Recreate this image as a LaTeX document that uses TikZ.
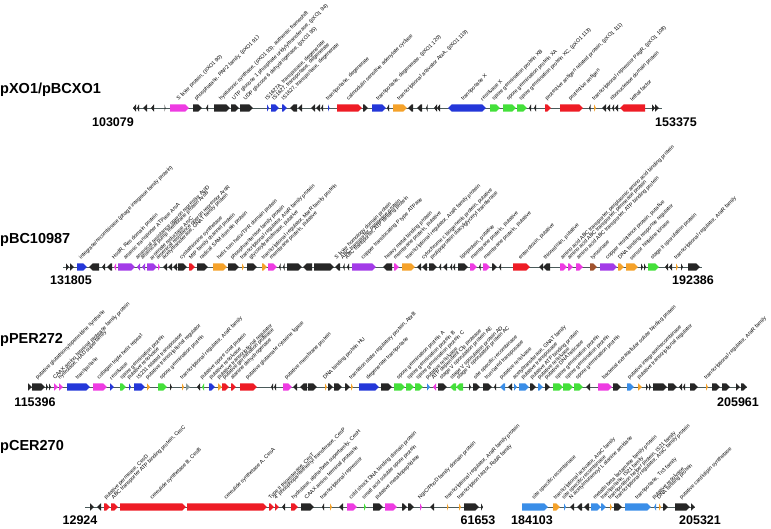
\documentclass[tikz,border=0pt]{standalone}
\usepackage{fontspec}
\setmainfont{Liberation Sans}
\definecolor{blk}{HTML}{262626}
\definecolor{mag}{HTML}{EE3BE2}
\definecolor{rd}{HTML}{EE1C25}
\definecolor{blu}{HTML}{2437D9}
\definecolor{lblu}{HTML}{3A8EE8}
\definecolor{grn}{HTML}{44E03A}
\definecolor{org}{HTML}{F5A22A}
\definecolor{pur}{HTML}{A33BE8}
\definecolor{brn}{HTML}{A0522D}
\definecolor{gry}{HTML}{8A9A9A}
\definecolor{bone}{HTML}{4A5A5A}
\tikzset{
  lbl/.style={font=\fontsize{5.3}{6}\selectfont, rotate=45, anchor=south west, inner sep=0pt},
  ttl/.style={font=\fontsize{14.5}{16}\selectfont\bfseries, anchor=west, inner sep=0pt},
  num/.style={font=\fontsize{12.5}{14}\selectfont\bfseries, inner sep=0pt},
  backbone/.style={draw=bone, line width=0.9pt}
}
\newcommand\G[5]{%
  \pgfmathsetmacro\gl{#2-#1}%
  \pgfmathsetmacro\gh{min(3.8,\gl)}%
  \ifx r#3
    \fill[#4] (#1,\ty-3.7) -- (#2-\gh,\ty-3.7) -- (#2,\ty) -- (#2-\gh,\ty+3.7) -- (#1,\ty+3.7) -- cycle;
  \else
    \fill[#4] (#2,\ty-3.7) -- (#1+\gh,\ty-3.7) -- (#1,\ty) -- (#1+\gh,\ty+3.7) -- (#2,\ty+3.7) -- cycle;
  \fi
  \if\relax\detokenize{#5}\relax\else
    \node[lbl] at ({(#1+#2)/2},\ty-6.5) {#5};
  \fi
}
\begin{document}
\begin{tikzpicture}[x=1pt,y=-1pt]
\useasboundingbox (0,0) rectangle (771,528);
% ---------------- Track 1 ----------------
\def\ty{108}
\node[ttl] (t1) at (0,90) {pXO1/pBCXO1};
\draw[backbone] (133,\ty) -- (662,\ty);
\node[num] (s1) at (113,122) {103079};
\node[num] (e1) at (676,122) {153375};
\G{133}{136}{l}{blk}{}
\G{137}{139}{l}{blk}{}
\G{143}{147}{l}{blk}{}
\G{151}{154}{l}{blk}{}
\G{164.5}{165.5}{r}{blk}{}
\G{170}{189}{r}{mag}{S layer protein, (pXO1 90)}
\G{193}{202}{r}{blk}{phosphatase, PAP2 family, (pXO1 91)}
\G{206}{208}{l}{blk}{}
\G{214}{230}{r}{blk}{hyaluronic synthase, (pXO1 93), authentic frameshift}
\G{231}{239}{r}{blk}{UTP glucose 1 phosphate uridylyltransferase, (pXO1 94)}
\G{240}{253}{r}{blk}{UDP glucose 6 dehydrogenase, (pXO1 95)}
\G{267}{269}{r}{blu}{IS1627A, transposase, degenerate}
\G{271}{279}{r}{blu}{IS1627, transposase, degenerate}
\G{282}{287}{r}{blu}{IS1627, transposase, degenerate}
\G{290}{297}{l}{blk}{}
\G{298}{302}{l}{blk}{}
\G{311}{315}{l}{blk}{}
\G{316}{320}{l}{blk}{}
\G{321}{323}{l}{blk}{}
\G{328}{329.5}{r}{blu}{transposase, degenerate}
\G{337}{362}{r}{rd}{calmodulin sensitive adenylate cyclase}
\G{363}{368}{r}{blk}{}
\G{372}{386}{r}{blu}{transposase, degenerate, (pXO1 120)}
\G{387}{389}{l}{blk}{}
\G{393}{407}{r}{org}{transcriptional activator AtxA, (pXO1 119)}
\G{408}{413}{l}{blk}{}
\G{417}{422}{l}{blk}{}
\G{426}{427.5}{l}{blk}{}
\G{434}{437}{l}{blk}{}
\G{437}{440}{l}{blk}{}
\G{448}{480}{l}{blu}{transposase X}
\G{480}{486}{r}{blu}{resolvase X}
\G{490}{500}{r}{grn}{spore germination protein XB}
\G{503}{516}{r}{grn}{spore germination protein XA}
\G{517}{527}{r}{grn}{spore germination protein XC, (pXO1 113)}
\G{529}{531}{l}{blk}{}
\G{534}{536}{l}{blk}{}
\G{545}{551}{r}{rd}{protective antigen related protein, (pXO1 111)}
\G{560}{583}{r}{rd}{protective antigen}
\G{589}{590.5}{l}{blk}{}
\G{594}{596}{r}{org}{transcriptional repressor PagR, (pXO1 108)}
\G{602}{606}{l}{blk}{}
\G{607}{610}{l}{blk}{}
\G{612}{614}{l}{blk}{ribonuclease domain protein}
\G{615}{618}{l}{blk}{}
\G{620}{645}{l}{rd}{lethal factor}
\G{652}{655}{r}{blk}{}
\G{655}{659}{r}{blk}{}
% ---------------- Track 2 ----------------
\def\ty{267}
\node[ttl] (t2) at (0,240) {pBC10987};
\draw[backbone] (63,\ty) -- (702,\ty);
\node[num] (s2) at (71,280) {131805};
\node[num] (e2) at (693,280) {192386};
\G{66}{69}{r}{blk}{}
\G{70}{74}{r}{blk}{}
\G{77}{87}{r}{blu}{integrase/recombinase (phage integrase family protein)}
\G{89}{99}{l}{blk}{}
\G{102}{105}{l}{blk}{}
\G{107}{112}{l}{blk}{}
\G{114}{116}{l}{mag}{HsdR, Res domain protein}
\G{118}{135}{r}{pur}{arsenic transporter ATPase ArsA}
\G{137}{140}{l}{pur}{arsenical resistance operon repressor ArsD}
\G{142}{145}{l}{pur}{arsenical pump membrane protein ArsB}
\G{147}{157}{r}{pur}{arsenate reductase ArsC}
\G{158}{160}{r}{mag}{arsenical resistance operon repressor ArsR}
\G{163}{167}{l}{blk}{acetyltransferase, GNAT family protein}
\G{168}{172}{l}{blk}{}
\G{173}{177}{l}{blk}{}
\G{178}{187}{r}{blk}{cystathionine synthetase}
\G{189}{195}{r}{rd}{MIP family channel protein}
\G{197}{208}{r}{blk}{radical SAM domain protein}
\G{213}{227}{r}{org}{helix turn helix/TPR domain protein}
\G{228}{239}{r}{blk}{phosphoesterase family protein}
\G{242}{244}{r}{org}{transcriptional regulator, AraR family protein}
\G{247}{257}{r}{blk}{glycosyltransferase, putative}
\G{262}{267}{r}{org}{transcriptional regulator, MarR family protein}
\G{268}{277}{r}{mag}{membrane protein, putative}
\G{279}{280.5}{l}{blk}{}
\G{283}{284.5}{l}{blk}{}
\G{287}{302}{r}{blk}{}
\G{303}{312}{l}{blk}{}
\G{314}{334}{r}{blk}{}
\G{335}{340}{l}{blk}{S layer homology domain protein}
\G{343}{344.5}{l}{blk}{ABC transporter, permease protein}
\G{347}{349}{l}{blk}{ABC transporter, ATP binding protein}
\G{352}{376}{r}{pur}{copper translocating P type ATPase}
\G{383}{392}{l}{blk}{heavy metal binding protein}
\G{394}{399}{r}{mag}{membrane protein, putative}
\G{402}{415}{r}{org}{transcriptional regulator, AraR family protein}
\G{417}{421}{l}{blk}{}
\G{422}{427}{l}{blk}{cytochrome c biogenesis protein, putative}
\G{429}{437}{r}{blk}{prolipoprotein diacylglyceryl transferase}
\G{439}{441}{l}{blk}{}
\G{443}{447}{l}{blk}{}
\G{450}{452}{l}{blk}{}
\G{453}{455}{l}{blk}{}
\G{458}{468}{r}{blk}{lipoprotein, putative}
\G{470}{477}{r}{mag}{membrane protein, putative}
\G{479}{480.5}{l}{blk}{}
\G{483}{490}{r}{mag}{membrane protein, putative}
\G{492}{497}{r}{blk}{}
\G{499}{501}{l}{blk}{}
\G{513}{530}{r}{rd}{enterotoxin, putative}
\G{539}{543}{l}{blk}{}
\G{543}{550}{l}{blk}{thioredoxin, putative}
\G{560}{567}{r}{mag}{amino acid ABC transporter, periplasmic amino acid binding protein}
\G{568}{573}{r}{mag}{amino acid ABC transporter, permease protein}
\G{576}{583}{r}{mag}{amino acid ABC transporter, ATP binding protein}
\G{590}{597}{r}{brn}{tyrosinase}
\G{600}{617}{r}{pur}{copper resistance protein, putative}
\G{618}{624}{r}{org}{DNA binding response regulator}
\G{626}{638}{r}{org}{sensor histidine kinase}
\G{641}{643}{r}{blk}{}
\G{644}{646}{r}{blk}{}
\G{648}{659}{r}{grn}{stage II sporulation protein}
\G{665}{668}{l}{blk}{}
\G{669}{672}{l}{blk}{}
\G{676}{678}{r}{org}{transcriptional regulator, AraR family}
\G{681}{683}{r}{blk}{}
\G{688}{700}{r}{blk}{}
% ---------------- Track 3 ----------------
\def\ty{387}
\node[ttl] (t3) at (0,340) {pPER272};
\draw[backbone] (28,\ty) -- (747,\ty);
\node[num] (s3) at (35,402) {115396};
\node[num] (e3) at (738,402) {205961};
\G{28}{32}{r}{blk}{}
\G{32}{45}{r}{blk}{putative glutathionylspermidine synthase}
\G{46}{48}{r}{blk}{}
\G{49}{51}{r}{blk}{}
\G{54}{58}{r}{mag}{CAAX amino terminal protease family protein}
\G{59}{63}{r}{mag}{hydrolase, HAD superfamily}
\G{67}{90}{r}{blu}{transposase}
\G{93}{107}{r}{mag}{collagen triple helix repeat}
\G{110}{114}{r}{blu}{resolvase}
\G{120}{126}{r}{grn}{spore germination protein}
\G{129}{131}{r}{blu}{putative resolvase}
\G{134}{145}{r}{blu}{IS231 related transposase}
\G{147}{150}{r}{org}{putative transcriptional regulator}
\G{158}{167}{r}{grn}{spore germination protein}
\G{170}{172}{r}{blk}{}
\G{182}{184}{r}{org}{transcriptional regulator, AraR family}
\G{186}{190}{r}{gry}{}
\G{197}{200}{l}{blk}{}
\G{202}{204}{l}{grn}{putative spore coat protein}
\G{209}{215}{r}{blu}{putative resolvase}
\G{218}{222}{r}{org}{putative transcriptional regulator}
\G{222}{229}{r}{rd}{putative germination protease}
\G{231}{236}{r}{rd}{alanine dehydrogenase}
\G{240}{257}{r}{rd}{putative glutamate cysteine ligase}
\G{271}{273}{l}{blk}{}
\G{274}{276}{l}{blk}{}
\G{283}{292}{r}{mag}{putative membrane protein}
\G{293}{297}{l}{blk}{}
\G{300}{307}{l}{blk}{}
\G{308}{317}{r}{blk}{}
\G{325}{327}{r}{org}{DNA binding protein HU}
\G{328}{333}{r}{blk}{}
\G{334}{342}{r}{blk}{}
\G{345}{350}{r}{blk}{}
\G{351}{353}{r}{org}{transition state regulatory protein, AbrB}
\G{359}{379}{r}{blu}{degenerate transposase}
\G{381}{392}{r}{blk}{}
\G{394}{405}{r}{grn}{spore germination protein A}
\G{406}{414}{r}{grn}{spore germination protein B}
\G{415}{423}{r}{grn}{spore germination protein C}
\G{427}{430}{r}{lblu}{putative resolvase}
\G{433}{436}{l}{mag}{ATP dependent Clp protease}
\G{438}{447}{r}{blk}{stage V sporulation protein AE}
\G{450}{456}{l}{grn}{stage V sporulation protein AD}
\G{456}{463}{l}{grn}{stage V sporulation protein AC}
\G{469}{471}{r}{blk}{}
\G{473}{480}{r}{blk}{site specific recombinase}
\G{483}{492}{r}{blk}{truncated transposase}
\G{494}{496}{l}{blk}{}
\G{500}{505}{l}{lblu}{putative resolvase}
\G{508}{512}{l}{blk}{}
\G{514}{517}{r}{lblu}{acetyltransferase, GNAT family}
\G{519}{529}{r}{lblu}{putative transposase}
\G{530}{536}{r}{blk}{putative ATP binding protein}
\G{538}{543}{r}{lblu}{putative resolvase}
\G{545}{550}{r}{blk}{putative DNA helicase}
\G{553}{563}{r}{grn}{spore germination protein}
\G{563}{573}{r}{grn}{spore germination protein}
\G{574}{583}{r}{grn}{spore germination protein}
\G{586}{590}{l}{blk}{}
\G{598}{612}{r}{mag}{bacterial extracellular solute binding protein}
\G{613}{621}{r}{blk}{}
\G{627}{634}{r}{lblu}{putative integrase/recombinase}
\G{638}{642}{r}{org}{putative transcriptional regulator}
\G{646}{648}{r}{blk}{}
\G{649}{651}{r}{blk}{}
\G{653}{667}{r}{blk}{}
\G{668}{677}{r}{blk}{}
\G{679}{682}{l}{blk}{}
\G{683}{685}{l}{blk}{}
\G{690}{698}{r}{blk}{}
\G{706}{708}{r}{org}{transcriptional regulator, AraR family}
\G{712}{720}{r}{blk}{}
\G{722}{730}{r}{blk}{}
\G{736}{740}{r}{blk}{}
\G{741}{747}{r}{blk}{}
% ---------------- Track 4 ----------------
\def\ty{507}
\node[ttl] (t4) at (0,447) {pCER270};
\draw[backbone] (85,\ty) -- (483,\ty);
\draw[backbone] (522,\ty) -- (695,\ty);
\node[num] (s4) at (80,520) {12924};
\node[num] (e4) at (478,520) {61653};
\node[num] (s5) at (532,520) {184103};
\node[num] (e5) at (700,520) {205321};
\G{90}{94}{r}{blk}{}
\G{97}{101}{l}{blk}{}
\G{104}{110}{r}{rd}{putative permease, CesD}
\G{111}{118}{r}{rd}{ABC transporter ATP binding protein, CesC}
\G{120}{186}{r}{rd}{cereulide synthetase B, CesB}
\G{187}{267}{r}{rd}{cereulide synthetase A, CesA}
\G{269}{274}{r}{rd}{Type II thioesterase, CesT}
\G{275}{279}{r}{rd}{4' phosphopantetheinyl transferase, CesP}
\G{282}{285}{l}{blk}{}
\G{291}{298}{r}{rd}{hydrolase, alpha/beta superfamily, CesH}
\G{301}{314}{r}{blk}{CAAX amino terminal protease}
\G{322}{324}{l}{blk}{transcriptional repressor}
\G{330}{332}{r}{org}{}
\G{339}{343}{l}{blk}{}
\G{347}{357}{r}{mag}{cold shock DNA binding domain protein}
\G{364}{366}{r}{grn}{small acid soluble spore protein}
\G{373}{383}{r}{blk}{putative metallopeptidase}
\G{385}{397}{r}{mag}{}
\G{402}{407}{r}{blk}{}
\G{408}{414}{r}{blk}{}
\G{420}{422}{r}{mag}{NgrC/PhoD family domain protein}
\G{430}{434}{l}{blk}{}
\G{447}{448.5}{r}{org}{transcriptional regulator, AraR family protein}
\G{459}{461}{r}{org}{transcription factor, RsbR family}
\G{464}{479}{r}{blk}{}
\G{481}{483}{r}{blk}{}
\G{522}{548}{r}{lblu}{site specific recombinase}
\G{553}{560}{r}{org}{transcriptional activator, AraC family}
\G{564}{566}{r}{lblu}{site specific recombinase}
\G{570}{574}{l}{blk}{N acetylmuramoyl L alanine amidase}
\G{577}{582}{l}{blk}{}
\G{584}{589}{l}{blk}{}
\G{591}{601}{r}{lblu}{metallo beta lactamase family protein}
\G{601}{606}{r}{lblu}{transposase, IS21 family}
\G{610}{612}{r}{org}{transposition helper protein, IS21 family}
\G{614}{622}{r}{blk}{transcriptional regulator, AraC family protein}
\G{625}{651}{r}{lblu}{transposase, Tn3 family}
\G{654}{656}{l}{lblu}{putative resolvase}
\G{659}{661}{r}{org}{DNA binding protein}
\G{663}{668}{r}{blk}{}
\G{675}{690}{r}{blk}{putative cardiolipin synthetase}
\G{691}{695}{r}{blk}{}
\end{tikzpicture}
\end{document}
